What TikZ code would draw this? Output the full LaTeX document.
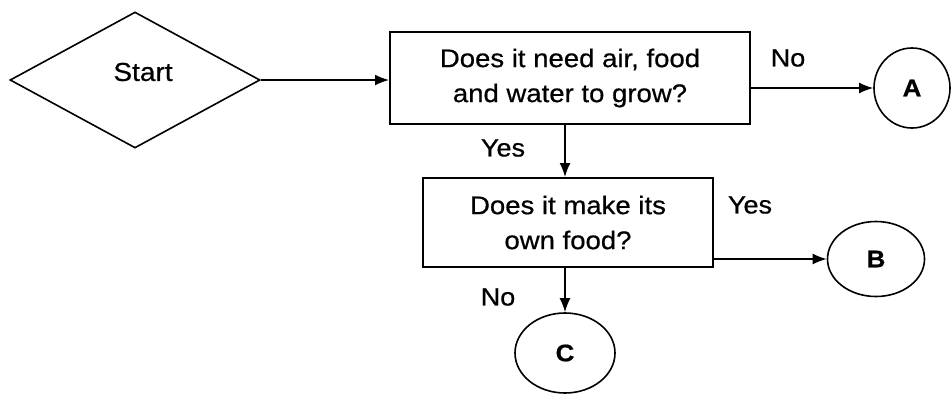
\documentclass[tikz,border=0pt]{standalone}
\usepackage{fontspec}
\setmainfont{Liberation Sans}[FakeStretch=1.08,FakeBold=0.6]
\usetikzlibrary{shapes.geometric,arrows.meta}
\begin{document}
\begin{tikzpicture}[x=1pt,y=-1pt,
  outline/.style={draw=black, line width=2pt},
  qbox/.style={outline, rectangle, inner sep=0pt, align=center,
    font=\fontsize{25.5}{35}\selectfont},
  endpt/.style={draw=black, line width=1.6pt, ellipse, inner sep=0pt,
    font=\bfseries\fontsize{24}{24}\selectfont},
  lbl/.style={font=\fontsize{25}{25}\selectfont, inner sep=0pt},
  flow/.style={line width=1.6pt, -{Latex[length=14pt,width=11pt]}}]
\useasboundingbox (0,0) rectangle (952,394);

% start symbol
\node[outline, line width=1.6pt, diamond, minimum width=250pt, minimum height=136pt, inner sep=0pt,
  label={[xshift=8pt,yshift=8pt,font=\fontsize{26}{26}\selectfont]center:Start}]
  (start) at (135,80) {};

% decision boxes
\node[qbox, minimum width=360pt, minimum height=92pt] (q1) at (570,78)
  {Does it need air, food\\and water to grow?};
\node[qbox, minimum width=290pt, minimum height=89pt] (q2) at (568,222.5)
  {Does it make its\\own food?};

% outcomes
\node[endpt, minimum width=76pt, minimum height=80pt] (A) at (912,88) {A};
\node[endpt, minimum width=97pt, minimum height=75pt] (B) at (876,259) {B};
\node[endpt, minimum width=100pt, minimum height=80pt] (C) at (565,353) {C};

% connectors
\draw[flow] (start.east) -- (start.east -| q1.west);
\draw[flow] (A.west -| q1.east) -- (A.west);
\draw[flow] (q1.south -| C.north) -- (q2.north -| C.north);
\draw[flow] (B.west -| q2.east) -- (B.west);
\draw[flow] (q2.south -| C.north) -- (C.north);

% branch labels
\node[lbl] (l1) at (788,58) {No};
\node[lbl] (l2) at (503,148) {Yes};
\node[lbl] (l3) at (750,205) {Yes};
\node[lbl] (l4) at (498,297) {No};
\end{tikzpicture}
\end{document}
